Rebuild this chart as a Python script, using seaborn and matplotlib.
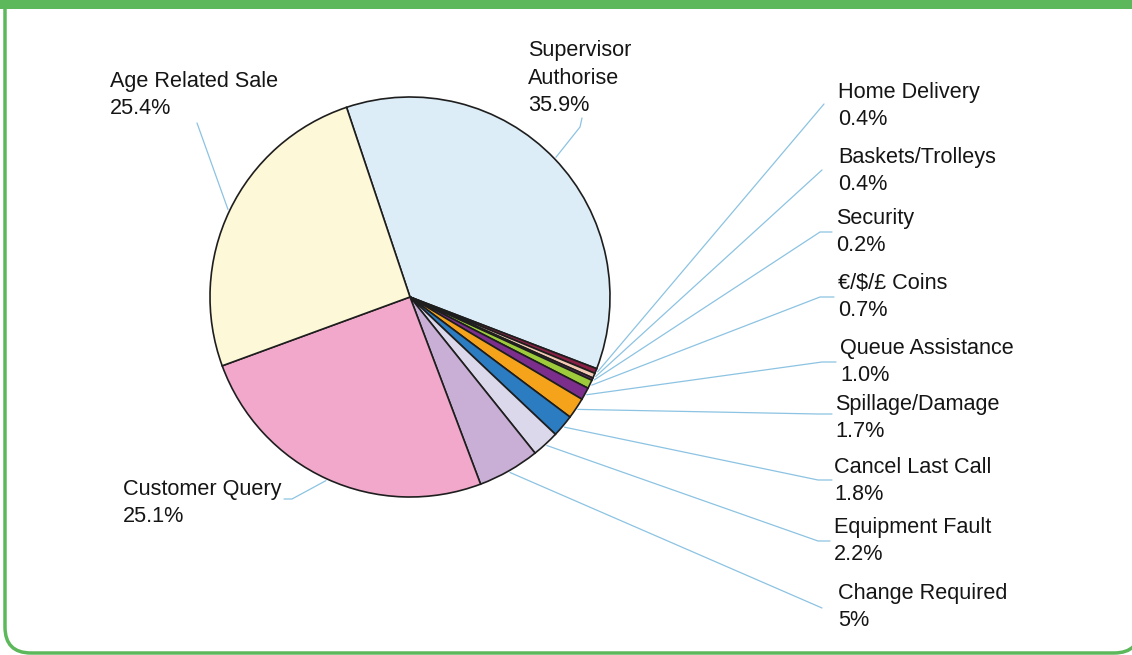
import numpy as np
import pandas as pd
import seaborn as sns
import matplotlib
matplotlib.use("Agg")
import matplotlib.pyplot as plt
from matplotlib.patches import FancyBboxPatch, Rectangle

# ---- data ----
categories = ["Supervisor\nAuthorise", "Home Delivery", "Baskets/Trolleys", "Security",
              "€/$/£ Coins", "Queue Assistance", "Spillage/Damage", "Cancel Last Call",
              "Equipment Fault", "Change Required", "Customer Query", "Age Related Sale"]
values = [35.9, 0.4, 0.4, 0.2, 0.7, 1.0, 1.7, 1.8, 2.2, 5, 25.1, 25.4]
pct_labels = ["35.9%", "0.4%", "0.4%", "0.2%", "0.7%", "1.0%", "1.7%", "1.8%",
              "2.2%", "5%", "25.1%", "25.4%"]
colors = ["#dcedf7", "#8a1f45", "#f3c9b3", "#6a2f6e", "#9dcb3c", "#7b2e8c",
          "#f6a31c", "#2b7cc0", "#dcd8ec", "#c9aed6", "#f2a8cb", "#fdf8d8"]

sns.set_theme(style="white")
plt.rcParams["font.family"] = ["Liberation Sans", "DejaVu Sans"]

W, H = 1132, 655
fig = plt.figure(figsize=(W / 100, H / 100), dpi=100)
ax = fig.add_axes([0, 0, 1, 1])
ax.set_xlim(0, W)
ax.set_ylim(0, H)

def Y(py):
    return H - py

# frame
fig.patches.append(Rectangle((0, 1 - 9 / H), 1, 9 / H, transform=fig.transFigure,
                             facecolor="#5cb85a", edgecolor="none", zorder=0))
ax.add_patch(FancyBboxPatch((5, Y(653)), 1135, 900, boxstyle="round,pad=0,rounding_size=26",
                            facecolor="none", edgecolor="#5cb85a", linewidth=2.5, zorder=0,
                            clip_on=True))

cx, cy, R = 410, Y(297), 200
wedges, _ = ax.pie(values, colors=colors, startangle=108.5, counterclock=False,
                   center=(cx, cy), radius=R, frame=True,
                   wedgeprops=dict(edgecolor="#1e1e1e", linewidth=1.2))
ax.set_xlim(0, W)
ax.set_ylim(0, H)
ax.set_aspect("equal")
ax.axis("off")

# label anchors (px, text left x and block centre y) and leader ends
label_pos = [(528, 78), (838, 106), (838, 171), (836, 232), (838, 297), (840, 362),
             (835, 418), (834, 481), (834, 541), (838, 607), (123, 503), (110, 95)]
leader_end = [[(580, 127), (582, 118)], [(824, 104)], [(822, 170)],
              [(820, 232), (832, 232)], [(820, 297), (834, 297)], [(822, 362), (836, 362)],
              [(818, 414), (832, 414)], [(818, 480), (832, 480)], [(818, 541), (830, 541)],
              [(822, 608)], [(292, 499), (284, 499)], [(197, 123)]]

for w, cat, pct, (lx, ly), ends in zip(wedges, categories, pct_labels, label_pos, leader_end):
    mid = np.deg2rad((w.theta1 + w.theta2) / 2)
    sx = cx + R * 1.01 * np.cos(mid)
    sy = cy + R * 1.01 * np.sin(mid)
    xs = [sx] + [e[0] for e in ends]
    ys = [sy] + [Y(e[1]) for e in ends]
    ax.plot(xs, ys, color="#8cc3e2", linewidth=0.9, zorder=1)
    ax.text(lx, Y(ly), f"{cat}\n{pct}", ha="left", va="center", fontsize=15.6,
            color="#151515", linespacing=1.38)

fig.savefig("out.png", dpi=100)
